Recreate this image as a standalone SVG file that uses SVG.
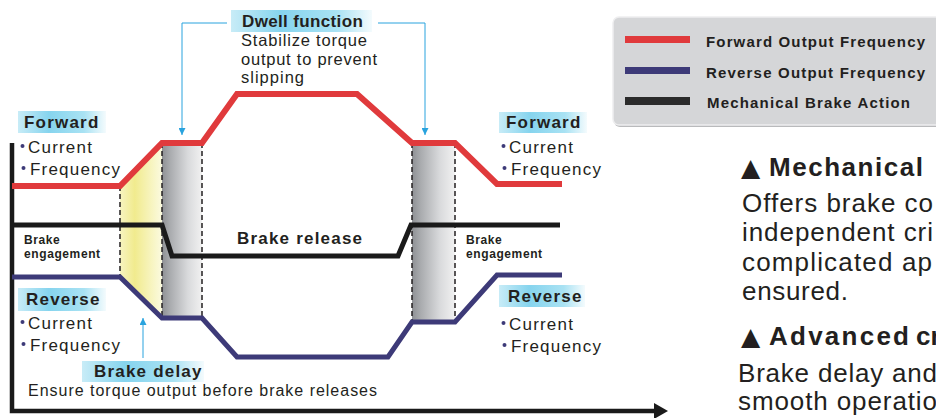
<svg xmlns="http://www.w3.org/2000/svg" width="936" height="418" viewBox="0 0 936 418">
<style>
.t{font-family:"Liberation Sans",Arial,sans-serif;fill:#231f20}
.b{font-weight:bold}
.lbl{font-size:17px;font-weight:bold;letter-spacing:1.2px}
.it{font-size:17px;letter-spacing:1.2px}
.sm{font-size:12px;font-weight:bold;letter-spacing:0.6px}
.leg{font-size:15px;font-weight:bold}
.big{font-size:26px}
.tri{font-family:"DejaVu Sans",sans-serif;font-size:25px;fill:#231f20}
.dash{stroke:#231f20;stroke-width:1.5;stroke-dasharray:5 3;fill:none}
.ln{fill:none;stroke-linejoin:miter}
.conn{fill:none;stroke:#29a3de;stroke-width:1}
.bul{fill:#3d3a78}
</style>
<defs>
<linearGradient id="gLbl" x1="0" y1="0" x2="1" y2="0">
<stop offset="0" stop-color="#c8ecf7"/>
<stop offset="0.35" stop-color="#86d4ee"/>
<stop offset="0.75" stop-color="#a9e2f3"/>
<stop offset="1" stop-color="#f4fbfd"/>
</linearGradient>
<linearGradient id="gGray" x1="0" y1="0" x2="1" y2="0">
<stop offset="0" stop-color="#8e9094"/>
<stop offset="0.2" stop-color="#a9abae"/>
<stop offset="0.65" stop-color="#d9dadc"/>
<stop offset="1" stop-color="#f1f1f1"/>
</linearGradient>
<linearGradient id="gYel" x1="0" y1="0" x2="1" y2="0">
<stop offset="0" stop-color="#f7f4c0"/>
<stop offset="0.35" stop-color="#f1eb8e"/>
<stop offset="1" stop-color="#fbfadf"/>
</linearGradient>
<marker id="ah" viewBox="0 0 10 10" refX="10" refY="5" markerWidth="7" markerHeight="7" markerUnits="userSpaceOnUse" orient="auto">
<path d="M0,0 L10,5 L0,10 z" fill="#29a3de"/>
</marker>
</defs>

<g id="zones">
<polygon points="120,186 162,143 162,318 120,277" fill="url(#gYel)"/>
<rect x="162" y="143" width="40" height="175" fill="url(#gGray)"/>
<rect x="412" y="143" width="43" height="179" fill="url(#gGray)"/>
<line class="dash" x1="120" y1="186" x2="120" y2="277"/>
<line class="dash" x1="162" y1="143" x2="162" y2="318"/>
<line class="dash" x1="202" y1="143" x2="202" y2="318"/>
<line class="dash" x1="412" y1="143" x2="412" y2="322"/>
<line class="dash" x1="455" y1="143" x2="455" y2="322"/>
</g>

<g id="axes">
<polyline points="12,143 12,411 655,411" fill="none" stroke="#1a1a1a" stroke-width="4.5"/>
<polygon points="654,403 668,411 654,419" fill="#1a1a1a"/>
</g>

<g id="curves">
<polyline class="ln" points="12,186 120,186 162,143 202,143 237,94 357,94 412,143 455,143 497,184 562,184" stroke="#e03a3c" stroke-width="6"/>
<polyline class="ln" points="12,225 162,225 172,256 398,256 411,225 560,225" stroke="#1a1a1a" stroke-width="5"/>
<polyline class="ln" points="12,277 120,277 162,318 202,318 237,357 388,357 412,322 455,322 497,275 562,275" stroke="#3d3a78" stroke-width="5"/>
</g>

<g id="connectors">
<polyline class="conn" points="227,23 182,23 182,135" marker-end="url(#ah)"/>
<polyline class="conn" points="378,23 425,23 425,135" marker-end="url(#ah)"/>
<line class="conn" x1="143" y1="358" x2="143" y2="318" marker-end="url(#ah)"/>
</g>

<g id="forward-left">
<rect x="18" y="111" width="88" height="22" fill="url(#gLbl)"/>
<text class="t lbl" x="24" y="128">Forward</text>
<circle class="bul" cx="22.5" cy="146" r="2"/>
<text class="t it" x="28" y="153">Current</text>
<circle class="bul" cx="23.5" cy="168" r="2"/>
<text class="t it" x="30" y="175">Frequency</text>
</g>

<g id="brake-eng-left">
<text class="t sm" x="24" y="244">Brake</text>
<text class="t sm" x="24" y="258">engagement</text>
</g>

<g id="reverse-left">
<rect x="18" y="288" width="88" height="23" fill="url(#gLbl)"/>
<text class="t lbl" x="26" y="305">Reverse</text>
<circle class="bul" cx="22.5" cy="322" r="2"/>
<text class="t it" x="28" y="329">Current</text>
<circle class="bul" cx="23.5" cy="344" r="2"/>
<text class="t it" x="30" y="351">Frequency</text>
</g>

<g id="brake-release">
<text class="t lbl" x="237" y="244">Brake release</text>
</g>

<g id="dwell">
<rect x="231" y="10" width="141" height="22" fill="url(#gLbl)"/>
<text class="t lbl" x="242" y="27" textLength="122" lengthAdjust="spacing">Dwell function</text>
<text class="t" font-size="16.5" x="241" y="46" textLength="126" lengthAdjust="spacing">Stabilize torque</text>
<text class="t" font-size="16.5" x="241" y="65" textLength="136" lengthAdjust="spacing">output to prevent</text>
<text class="t" font-size="16.5" x="241" y="83" textLength="63" lengthAdjust="spacing">slipping</text>
</g>

<g id="brake-delay">
<rect x="82" y="361" width="122" height="21" fill="url(#gLbl)"/>
<text class="t lbl" x="94" y="377">Brake delay</text>
<text class="t" font-size="16" x="28" y="396" textLength="349" lengthAdjust="spacing">Ensure torque output before brake releases</text>
</g>

<g id="forward-right">
<rect x="499" y="112" width="88" height="21" fill="url(#gLbl)"/>
<text class="t lbl" x="506" y="128">Forward</text>
<circle class="bul" cx="503.5" cy="146" r="2"/>
<text class="t it" x="509" y="153">Current</text>
<circle class="bul" cx="504.5" cy="168" r="2"/>
<text class="t it" x="511" y="175">Frequency</text>
</g>

<g id="brake-eng-right">
<text class="t sm" x="466" y="244">Brake</text>
<text class="t sm" x="466" y="258">engagement</text>
</g>

<g id="reverse-right">
<rect x="499" y="285" width="86" height="22" fill="url(#gLbl)"/>
<text class="t lbl" x="508" y="302">Reverse</text>
<circle class="bul" cx="503.5" cy="323" r="2"/>
<text class="t it" x="509" y="330">Current</text>
<circle class="bul" cx="504.5" cy="345" r="2"/>
<text class="t it" x="511" y="352">Frequency</text>
</g>

<g id="legend">
<rect x="614" y="19" width="330" height="108" rx="6" fill="#b9babc"/>
<rect x="613" y="17" width="330" height="108" rx="6" fill="#d5d6d8" stroke="#eeeeef" stroke-width="1.5"/>
<rect x="625" y="36" width="65" height="7" fill="#e03a3c"/>
<rect x="625" y="67" width="65" height="7" fill="#3d3a78"/>
<rect x="625" y="97" width="65" height="8" fill="#2b2b2b"/>
<text class="t leg" x="706" y="47" textLength="219" lengthAdjust="spacing">Forward Output Frequency</text>
<text class="t leg" x="706" y="78" textLength="219" lengthAdjust="spacing">Reverse Output Frequency</text>
<text class="t leg" x="707" y="108" textLength="203" lengthAdjust="spacing">Mechanical Brake Action</text>
</g>

<g id="notes">
<text class="tri" x="741" y="176">▲</text>
<text class="t b big" x="769" y="176" textLength="154" lengthAdjust="spacing">Mechanical</text>
<text class="t big" x="742" y="212" textLength="191" lengthAdjust="spacing">Offers brake co</text>
<text class="t big" x="742" y="241" textLength="191" lengthAdjust="spacing">independent cri</text>
<text class="t big" x="742" y="271" textLength="190" lengthAdjust="spacing">complicated ap</text>
<text class="t big" x="742" y="300" textLength="106" lengthAdjust="spacing">ensured.</text>
<text class="tri" x="741" y="345">▲</text>
<text class="t b big" x="769" y="345" textLength="140" lengthAdjust="spacing">Advanced</text>
<text class="t b big" x="916" y="345">cr</text>
<text class="t big" x="738" y="382" textLength="199" lengthAdjust="spacing">Brake delay and</text>
<text class="t big" x="738" y="410" textLength="199" lengthAdjust="spacing">smooth operatio</text>
</g>
</svg>
